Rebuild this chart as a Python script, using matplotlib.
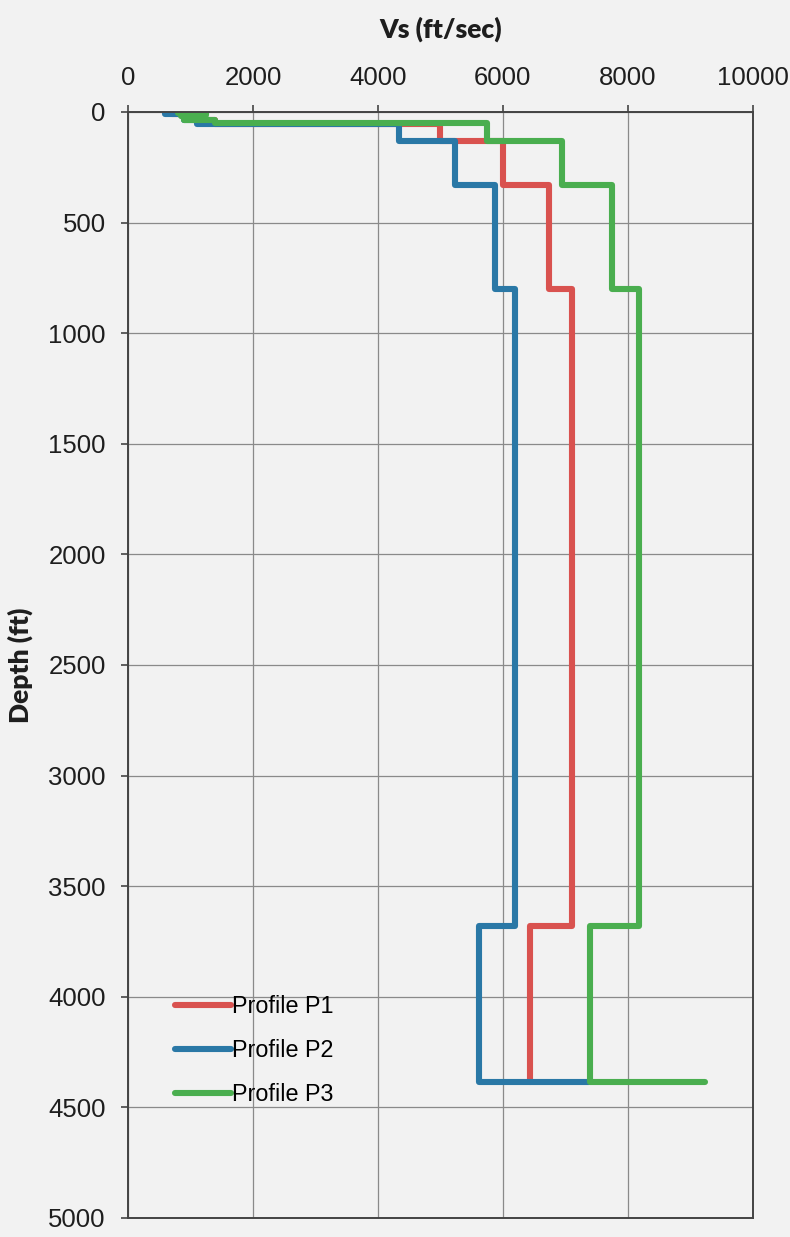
import numpy as np
import matplotlib
matplotlib.use("Agg")
import matplotlib.pyplot as plt

plt.rcParams["font.family"] = ["Liberation Sans", "DejaVu Sans"]

# layer tops (ft) and shear wave velocity (ft/sec) per layer
p1_depth = [0, 10, 20, 35, 55, 130, 330, 800, 3680, 4385]
p1_vs = [700, 1000, 1200, 1400, 5000, 6000, 6740, 7110, 6430]

p2_depth = [0, 8, 15, 25, 35, 45, 55, 130, 330, 800, 3680, 4385]
p2_vs = [600, 850, 1150, 900, 1300, 1100, 4340, 5230, 5870, 6190, 5610, 7380]

p3_depth = [0, 6, 12, 20, 28, 36, 50, 130, 330, 800, 3680, 4385]
p3_vs = [800, 1250, 850, 1200, 900, 1400, 5740, 6950, 7750, 8180, 7400, 9230]

labels = ["Profile P1", "Profile P2", "Profile P3"]
colors = ["#d9524f", "#2a78a6", "#4aae4f"]

x_ticks = [0, 2000, 4000, 6000, 8000, 10000]
y_ticks = [0, 500, 1000, 1500, 2000, 2500, 3000, 3500, 4000, 4500, 5000]


def step_profile(depth, vs):
    # vertical segment for each layer, horizontal jump at each boundary
    xs, ys = [], []
    for i in range(len(depth) - 1):
        xs += [vs[i], vs[i]]
        ys += [depth[i], depth[i + 1]]
    if len(vs) == len(depth):
        # last value is the half-space, drawn as a horizontal at the bottom
        xs.append(vs[-1])
        ys.append(depth[-1])
    return xs, ys


bg = "#f2f2f2"
fig = plt.figure(figsize=(7.9, 12.37), dpi=100, facecolor=bg)
ax = fig.add_axes([0.162, 0.0154, 0.791, 0.8941], facecolor=bg)

for d, v, lab, c in zip([p1_depth, p2_depth, p3_depth], [p1_vs, p2_vs, p3_vs], labels, colors):
    xs, ys = step_profile(d, v)
    ax.plot(xs, ys, color=c, lw=4.4, label=lab, solid_capstyle="round", solid_joinstyle="round")

ax.set_xlim(0, 10000)
ax.set_ylim(5000, 0)
ax.set_xticks(x_ticks)
ax.set_yticks(y_ticks)
ax.xaxis.tick_top()
ax.xaxis.set_label_position("top")
ax.grid(True, color="#8a8a8a", lw=0.9)
ax.set_axisbelow(True)

for s in ax.spines.values():
    s.set_color("#444444")
    s.set_linewidth(1.4)

ax.tick_params(axis="both", direction="out", length=5, width=1.2, color="#444444",
               labelsize=18.5, labelcolor="#1e1e1e", pad=11)

ax.set_xlabel("Vs (ft/sec)", fontsize=19, fontweight="heavy", family="Lato",
              color="#1e1e1e", labelpad=20)
ax.set_ylabel("Depth (ft)", fontsize=19, fontweight="heavy", family="Lato",
              color="#1e1e1e")
ax.yaxis.set_label_coords(-0.152, 0.5)

leg = ax.legend(loc="lower left", bbox_to_anchor=(0.06, 0.093), frameon=False,
                prop={"family": "Liberation Sans", "size": 16.8},
                handlelength=2.4, handletextpad=0.05, labelspacing=0.9, borderaxespad=0)
for line in leg.get_lines():
    line.set_linewidth(4.4)

fig.savefig("out.png", dpi=100, facecolor=bg)
